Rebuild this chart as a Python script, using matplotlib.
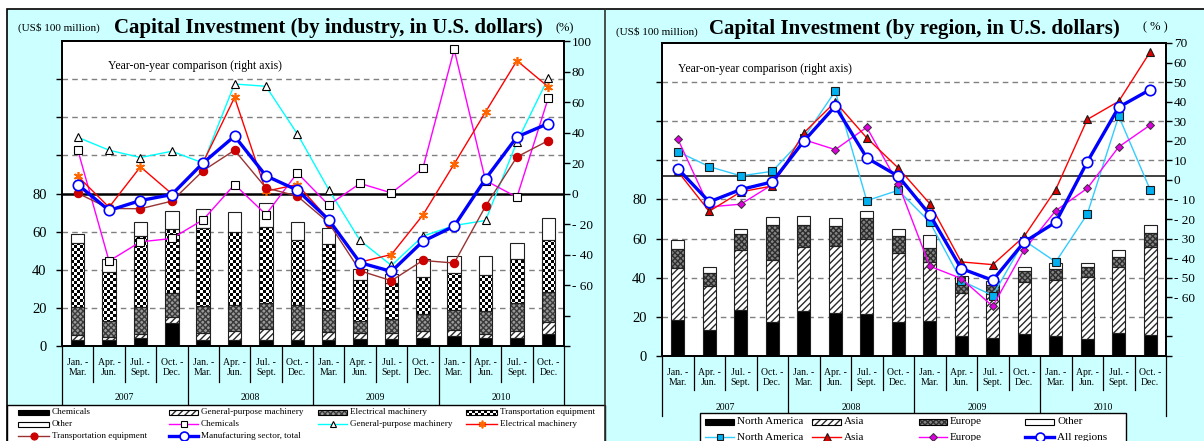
import numpy as np
import matplotlib
matplotlib.use('Agg')
import matplotlib.pyplot as plt
import matplotlib.transforms as mtransforms
from matplotlib.patches import Rectangle
from matplotlib.lines import Line2D
from matplotlib.path import Path

plt.rcParams['font.family'] = ['Liberation Serif', 'DejaVu Serif']
plt.rcParams['hatch.linewidth'] = 1.0

W, H = 1204, 441
BG = '#CCFFFF'

quarter_labels = ['Jan. -\nMar.', 'Apr. -\nJun.', 'Jul. -\nSept.', 'Oct. -\nDec.'] * 4
years = ['2007', '2008', '2009', '2010']

# capital investment by industry, US$ 100 million (stack segments)
ind_chem = [3.3, 3.0, 4.2, 11.9, 3.3, 3.3, 3.3, 3.3, 3.3, 3.7, 3.8, 4.2, 5.1, 4.2, 4.2, 6.3]
ind_gp = [2.6, 1.9, 2.3, 3.5, 3.5, 4.7, 5.4, 4.9, 3.9, 2.9, 3.0, 3.5, 3.3, 2.1, 3.8, 6.3]
ind_elec = [14.4, 8.0, 14.1, 12.6, 14.0, 13.7, 13.8, 13.5, 11.8, 6.7, 7.5, 9.1, 10.3, 11.9, 14.4, 15.7]
ind_trans = [33.7, 25.9, 37.2, 33.3, 41.0, 38.0, 39.9, 34.0, 34.4, 21.3, 18.7, 19.4, 19.6, 19.2, 23.2, 27.4]
ind_other = [4.9, 6.8, 7.2, 9.4, 10.2, 10.5, 12.4, 9.3, 8.4, 5.7, 4.7, 9.4, 9.0, 9.9, 8.4, 11.7]

# year-on-year change by industry, %
yoy_chem = [28.8, -44.3, -31.7, -29.5, -17.2, 5.9, -13.8, 13.5, -7.6, 6.6, 0.4, 16.4, 94.5, 8.5, -2.4, 62.7]
yoy_gp = [36.9, 28.4, 23.6, 27.7, 20.0, 71.8, 70.3, 39.1, 2.6, -30.8, -47.2, -28.0, -21.0, -17.7, 33.8, 75.8]
yoy_elec = [11.4, -9.0, 17.5, -0.2, 20.5, 63.0, 1.5, 5.9, -17.0, -45.0, -40.0, -14.2, 19.4, 53.5, 87.1, 69.9]
yoy_trans = [0.2, -9.8, -10.0, -5.0, 15.0, 28.4, 3.7, -1.7, -19.2, -50.7, -57.2, -43.9, -45.6, -8.3, 24.0, 34.7]
yoy_mfg = [5.9, -11.1, -4.6, -0.7, 20.1, 37.6, 11.6, 2.2, -17.2, -45.4, -51.1, -31.4, -21.4, 9.6, 37.1, 45.9]

# capital investment by region, US$ 100 million (stack segments)
reg_na = [18.6, 13.1, 23.7, 17.4, 22.8, 22.0, 21.5, 17.4, 18.1, 10.4, 9.2, 11.3, 10.4, 8.7, 11.9, 10.9]
reg_asia = [26.4, 22.5, 30.3, 31.9, 32.9, 34.1, 38.2, 35.1, 30.0, 21.8, 22.6, 26.4, 28.3, 31.5, 33.8, 44.7]
reg_eu = [9.9, 6.8, 8.4, 17.9, 11.5, 10.2, 10.7, 8.7, 7.1, 5.1, 4.7, 5.6, 5.8, 5.1, 4.9, 7.3]
reg_other = [4.4, 2.9, 2.7, 4.1, 4.6, 4.3, 3.9, 3.9, 6.9, 3.4, 2.0, 2.0, 3.1, 2.3, 3.6, 4.3]

# year-on-year change by region, %
yoy_na = [14.5, 6.8, 2.1, 4.4, 21.5, 45.4, -10.6, -5.3, -21.5, -51.5, -59.1, -31.0, -41.9, -17.5, 32.6, -5.1]
yoy_asia = [4.4, -16.0, -6.1, -3.1, 24.0, 39.9, 21.5, 6.1, -12.1, -41.9, -43.3, -28.8, -4.9, 30.9, 40.2, 65.5]
yoy_eu = [21.0, -13.8, -12.4, -2.4, 20.6, 15.5, 26.9, -2.0, -44.1, -50.4, -64.6, -35.6, -15.7, -4.3, 16.9, 28.1]
yoy_all = [5.8, -11.2, -4.9, -1.0, 19.8, 37.7, 11.3, 1.9, -17.7, -45.3, -51.3, -31.7, -21.6, 9.2, 37.2, 46.2]

SOLID = dict(face='black')
DIAG = dict(face='white', hatch='/////', hcolor='#2a2a2a')
MESH = dict(face='#9a9a9a', hatch='xxxxxx', hcolor='#3a3a3a')
MESH_DARK = dict(face='#858585', hatch='xxxxxx', hcolor='#2e2e2e')
CHECK = dict(checker=True)
PLAIN = dict(face='white')


def checker(nx, ny, cell=3):
    yy, xx = np.mgrid[0:ny, 0:nx]
    return ((yy // cell + xx // cell) % 2).astype(float)


def stacked_bars(ax, segments, styles, width, size_px):
    x = np.arange(len(segments[0]))
    bottom = np.zeros(len(x))
    for vals, st in zip(segments, styles):
        vals = np.asarray(vals, dtype=float)
        if st.get('checker'):
            # checkerboard texture clipped to the segment rectangles
            rects = [Path.unit_rectangle().transformed(
                mtransforms.Affine2D().scale(width, v).translate(xi - width / 2, b))
                for xi, b, v in zip(x, bottom, vals)]
            clip = Path.make_compound_path(*rects)
            im = ax.imshow(checker(*size_px), cmap='gray', vmin=0, vmax=1,
                           extent=(-0.5, 15.5, 0, 160), aspect='auto',
                           interpolation='nearest', zorder=2)
            im.set_clip_path(clip, ax.transData)
        else:
            ax.bar(x, vals, width, bottom, color=st['face'], hatch=st.get('hatch'),
                   edgecolor=st.get('hcolor', st['face']), lw=0, zorder=2)
        ax.bar(x, vals, width, bottom, fill=False, edgecolor='#202020', lw=0.8, zorder=3)
        bottom += vals


def category_axis(fig, px, L, R, B, y1, y2, q_y, yr_y):
    step = (R - L) / 16
    for i in range(17):
        xs = L + i * step
        end = y2 if i % 4 == 0 else y1
        fig.add_artist(Line2D([xs, xs], [B, end], transform=px, color='black', lw=0.9, zorder=1))
    for i, lab in enumerate(quarter_labels):
        fig.text(L + (i + 0.5) * step, q_y, lab, transform=px, ha='center', va='center',
                 fontsize=7, linespacing=1.15)
    for j, yr in enumerate(years):
        fig.text(L + (4 * j + 2) * step, yr_y, yr, transform=px, ha='center', va='center',
                 fontsize=7)


def legend_patch(fig, px, x0, x1, yc, st, h=5):
    if st.get('checker'):
        arr = checker(int(x1 - x0), h)
        fig.figimage(arr, xo=int(x0), yo=int(H - yc - h / 2), cmap='gray', vmin=0, vmax=1,
                     origin='upper', zorder=5)
    else:
        fig.add_artist(Rectangle((x0, yc - h / 2), x1 - x0, h, transform=px, facecolor=st['face'],
                                 hatch=st.get('hatch'), edgecolor=st.get('hcolor', st['face']),
                                 lw=0, zorder=5))
    fig.add_artist(Rectangle((x0, yc - h / 2), x1 - x0, h, transform=px, fill=False,
                             edgecolor='black', lw=0.8, zorder=6))


def legend_line(fig, px, x0, x1, yc, st):
    fig.add_artist(Line2D([x0, x1], [yc, yc], transform=px, color=st['color'], lw=st['lw'], zorder=5))
    fig.add_artist(Line2D([(x0 + x1) / 2], [yc], transform=px, ls='none', marker=st['marker'],
                          ms=st['ms'] * 0.85, mfc=st['mfc'], mec=st['mec'], mew=st['mew'], zorder=6))


def setup_axes(fig, L, T, R, B, rlim, rticks, rlabels, grid_vals):
    ax = fig.add_axes([L / W, 1 - B / H, (R - L) / W, (B - T) / H])
    ax.set_facecolor('white')
    for v in grid_vals:
        ax.axhline(v, color='#808080', lw=1.0, dashes=(4, 3), zorder=1)
    axr = ax.twinx()
    ax.set_xlim(-0.5, 15.5)
    ax.set_ylim(0, 160)
    ax.set_yticks(range(0, 160, 20))
    ax.set_yticklabels(['0', '20', '40', '60', '80', '', '', ''])
    ax.tick_params(axis='y', direction='out', length=4, pad=7, labelsize=10.5, width=1)
    ax.tick_params(axis='x', bottom=False, labelbottom=False)
    axr.set_ylim(*rlim)
    axr.set_yticks(rticks)
    axr.set_yticklabels(rlabels)
    axr.tick_params(axis='y', direction='out', length=4, pad=1.5, labelsize=9.5, width=1)
    for a in (ax, axr):
        for s in a.spines.values():
            s.set_linewidth(1.3)
    return ax, axr


def main():
    fig = plt.figure(figsize=(W / 100, H / 100), dpi=100)
    fig.patch.set_facecolor('white')
    px = mtransforms.Affine2D().scale(1 / W, -1 / H).translate(0, 1) + fig.transFigure

    # backdrop, divider between the two charts, white legend strip on the left
    fig.add_artist(Rectangle((7, 9), W, H, transform=px, facecolor=BG, edgecolor='black',
                             lw=1.2, zorder=-10))
    fig.add_artist(Rectangle((7, 404.5), 598, 50, transform=px, facecolor='white',
                             edgecolor='black', lw=1.0, zorder=-9))
    fig.add_artist(Line2D([605, 605], [9, H], transform=px, color='#303030', lw=1.2, zorder=-8))

    x = np.arange(16)

    # ---- left chart: by industry ----
    rt = list(range(-100, 101, 20))
    rl = ['', ''] + ['- %d' % -v for v in rt[2:5]] + [str(v) for v in rt[5:]]
    ax, axr = setup_axes(fig, 62, 41, 564, 346, (-100, 100), rt, rl, [20, 40, 60, 100, 120, 140])
    stacked_bars(ax, [ind_chem, ind_gp, ind_elec, ind_trans, ind_other],
                 [SOLID, DIAG, MESH, CHECK, PLAIN], 0.43, (502, 305))
    ax.set_xlim(-0.5, 15.5)
    ax.set_ylim(0, 160)
    axr.axhline(0, color='black', lw=1.8, zorder=1)

    s_chem = dict(color='#FF00FF', lw=1.0, marker='s', ms=5.5, mfc='white', mec='black', mew=0.8)
    s_gp = dict(color='#00FFFF', lw=1.0, marker='^', ms=5.5, mfc='white', mec='black', mew=0.8)
    s_elec = dict(color='#FF0000', lw=1.0, marker=(6, 2, 0), ms=6.5, mfc='#FF6600', mec='#FF6600', mew=1.2)
    s_trans = dict(color='#993333', lw=1.0, marker='o', ms=6, mfc='#CC0000', mec='#CC0000', mew=0.8)
    s_mfg = dict(color='#0000FF', lw=2.4, marker='o', ms=7.5, mfc='white', mec='#0000FF', mew=1.2)
    for vals, st in [(yoy_gp, s_gp), (yoy_chem, s_chem), (yoy_elec, s_elec),
                     (yoy_trans, s_trans), (yoy_mfg, s_mfg)]:
        axr.plot(x, vals, color=st['color'], lw=st['lw'], marker=st['marker'], ms=st['ms'],
                 mfc=st['mfc'], mec=st['mec'], mew=st['mew'], zorder=3)

    fig.text(18, 31, '(US$ 100 million)', transform=px, fontsize=8, va='baseline')
    fig.text(114, 33, 'Capital Investment (by industry, in U.S. dollars)', transform=px,
             fontsize=15, fontweight='bold', va='baseline')
    fig.text(555, 31, '(%)', transform=px, fontsize=9, va='baseline')
    fig.text(108, 66, 'Year-on-year comparison (right axis)', transform=px, fontsize=8.5, va='center')
    category_axis(fig, px, 62, 564, 346, 382, 404, 367.5, 397)

    cols = [(18, 49), (169, 198), (318, 347), (466, 497)]
    left_items = [
        ('bar', SOLID, 'Chemicals'), ('bar', DIAG, 'General-purpose machinery'),
        ('bar', MESH, 'Electrical machinery'), ('bar', CHECK, 'Transportation equipment'),
        ('bar', PLAIN, 'Other'), ('line', s_chem, 'Chemicals'),
        ('line', s_gp, 'General-purpose machinery'), ('line', s_elec, 'Electrical machinery'),
        ('line', s_trans, 'Transportation equipment'), ('line', s_mfg, 'Manufacturing sector, total'),
    ]
    for k, (kind, st, lab) in enumerate(left_items):
        x0, x1 = cols[k % 4]
        yc = [412, 424, 436][k // 4]
        if kind == 'bar':
            legend_patch(fig, px, x0, x1, yc, st)
        else:
            legend_line(fig, px, x0, x1, yc, st)
        fig.text(x1 + 3, yc, lab, transform=px, fontsize=6.6, va='center')

    # ---- right chart: by region ----
    rt = list(range(-90, 71, 10))
    rl = ['', '', ''] + ['- %d' % -v for v in rt[3:9]] + [str(v) for v in rt[9:]]
    ax2, axr2 = setup_axes(fig, 662, 43, 1166, 356, (-90, 70), rt, rl,
                           [20, 40, 60, 80, 100, 120, 140])
    stacked_bars(ax2, [reg_na, reg_asia, reg_eu, reg_other],
                 [SOLID, DIAG, MESH_DARK, PLAIN], 0.40, (504, 313))
    ax2.set_xlim(-0.5, 15.5)
    ax2.set_ylim(0, 160)
    axr2.axhline(2, color='#404040', lw=1.4, zorder=1)

    s_na = dict(color='#33CCFF', lw=1.0, marker='s', ms=5.5, mfc='#00B0F0', mec='#1a1a1a', mew=0.8)
    s_asia = dict(color='#FF0000', lw=1.0, marker='^', ms=6, mfc='#E00000', mec='#1a1a1a', mew=0.8)
    s_eu = dict(color='#FF00FF', lw=1.0, marker='D', ms=4.5, mfc='#DD00DD', mec='#333333', mew=0.7)
    s_all = dict(color='#0000FF', lw=2.4, marker='o', ms=7.5, mfc='white', mec='#0000FF', mew=1.2)
    for vals, st in [(yoy_na, s_na), (yoy_eu, s_eu), (yoy_asia, s_asia), (yoy_all, s_all)]:
        axr2.plot(x, vals, color=st['color'], lw=st['lw'], marker=st['marker'], ms=st['ms'],
                  mfc=st['mfc'], mec=st['mec'], mew=st['mew'], zorder=3)

    fig.text(616, 35, '(US$ 100 million)', transform=px, fontsize=8, va='baseline')
    fig.text(709, 34, 'Capital Investment (by region, in U.S. dollars)', transform=px,
             fontsize=15, fontweight='bold', va='baseline')
    fig.text(1143, 30, '( % )', transform=px, fontsize=9, va='baseline')
    fig.text(678, 69, 'Year-on-year comparison (right axis)', transform=px, fontsize=8.5, va='center')
    category_axis(fig, px, 662, 1166, 356, 390, 416, 377.5, 407)

    fig.add_artist(Rectangle((700, 413), 426, 40, transform=px, facecolor='white',
                             edgecolor='black', lw=1.0, zorder=4))
    cols = [(705, 734), (812, 841), (919, 947), (1025, 1054)]
    right_items = [
        ('bar', SOLID, 'North America'), ('bar', DIAG, 'Asia'), ('bar', MESH_DARK, 'Europe'),
        ('bar', PLAIN, 'Other'), ('line', s_na, 'North America'), ('line', s_asia, 'Asia'),
        ('line', s_eu, 'Europe'), ('line', s_all, 'All regions'),
    ]
    for k, (kind, st, lab) in enumerate(right_items):
        x0, x1 = cols[k % 4]
        yc = [422, 437][k // 4]
        if kind == 'bar':
            legend_patch(fig, px, x0, x1, yc, st, h=6)
        else:
            legend_line(fig, px, x0, x1, yc, st)
        fig.text(x1 + 3, yc, lab, transform=px, fontsize=8, va='center', zorder=6)

    fig.savefig('out.png', dpi=100)


if __name__ == '__main__':
    main()
